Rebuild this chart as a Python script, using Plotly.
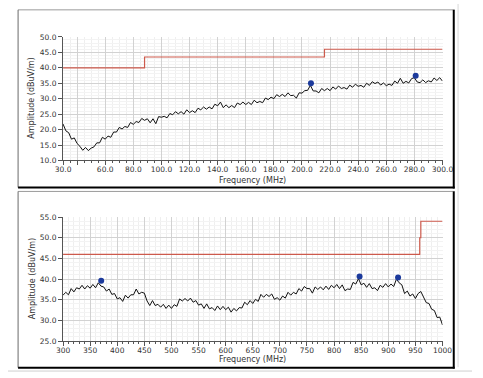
import plotly.graph_objects as go

# ---------------- data ----------------
top_freq = list(range(30, 301, 2))
top_amp = [
    21.8, 19.6, 19.0, 16.9, 17.3, 15.5, 14.6, 13.3, 14.2, 13.2,
    14.0, 14.4, 15.7, 15.7, 17.5, 16.9, 17.9, 17.5, 19.2, 19.2,
    20.7, 20.2, 21.0, 20.7, 22.3, 21.7, 22.6, 22.3, 23.6, 23.0,
    23.5, 22.2, 23.5, 21.9, 24.2, 24.0, 24.3, 23.8, 25.2, 24.8,
    25.8, 25.1, 25.8, 25.0, 26.4, 25.5, 26.1, 25.5, 26.9, 26.4,
    27.3, 26.6, 27.3, 26.7, 28.2, 27.7, 28.9, 27.1, 28.0, 27.1,
    27.8, 27.1, 28.6, 28.1, 28.9, 28.1, 28.8, 28.1, 29.5, 28.7,
    29.1, 28.7, 30.2, 29.7, 30.5, 30.0, 31.3, 30.7, 31.4, 30.7,
    31.9, 31.0, 31.1, 30.2, 31.9, 31.8, 32.6, 32.7, 34.3, 32.5,
    32.5, 31.9, 33.3, 32.6, 33.3, 32.6, 33.8, 33.1, 34.1, 33.3,
    33.6, 33.1, 34.4, 33.7, 34.7, 34.0, 34.3, 33.7, 35.0, 34.3,
    35.5, 34.9, 35.4, 34.4, 35.1, 34.2, 34.7, 34.3, 35.7, 35.0,
    36.6, 35.0, 35.6, 35.1, 36.5, 36.8, 35.4, 35.2, 36.1, 35.2,
    35.8, 35.4, 36.7, 35.9, 36.8, 35.7,
]
top_limit_freq = [30, 88, 88, 216, 216, 300]
top_limit_amp = [40.0, 40.0, 43.5, 43.5, 46.0, 46.0]
top_peak_freq = [206.4, 280.9]
top_peak_amp = [35.0, 37.4]

bot_freq = list(range(300, 1001, 5))
bot_amp = [
    36.1, 36.8, 36.2, 37.7, 36.9, 37.9, 37.6, 38.5, 37.6, 38.4,
    37.8, 38.7, 37.9, 39.1, 38.3, 38.1, 37.1, 37.6, 36.3, 36.5,
    35.2, 35.5, 34.6, 36.1, 35.4, 36.2, 36.2, 37.6, 36.4, 36.8,
    36.6, 34.7, 33.6, 34.8, 33.6, 33.9, 33.2, 33.9, 32.9, 33.7,
    32.9, 33.8, 33.4, 35.2, 34.7, 35.3, 34.7, 35.4, 34.4, 34.8,
    33.7, 34.0, 32.9, 34.0, 32.8, 33.1, 32.4, 33.5, 32.6, 33.4,
    32.6, 33.2, 32.0, 32.9, 32.3, 33.1, 33.0, 34.4, 33.8, 34.8,
    34.1, 35.1, 34.6, 36.3, 35.6, 36.3, 35.8, 36.4, 35.1, 35.5,
    34.9, 35.9, 35.4, 36.8, 36.1, 36.8, 36.4, 37.7, 37.1, 38.2,
    37.7, 37.7, 36.6, 38.1, 37.5, 38.1, 37.4, 38.3, 37.5, 38.5,
    37.9, 38.7, 37.7, 38.6, 37.2, 37.6, 37.5, 39.2, 38.8, 40.1,
    38.6, 39.0, 38.0, 38.9, 37.7, 37.9, 37.2, 38.5, 38.0, 38.9,
    38.1, 38.8, 38.2, 40.0, 39.1, 38.6, 36.5, 37.1, 35.9, 36.4,
    35.3, 36.5, 37.0, 35.6, 34.3, 34.1, 32.7, 32.4, 30.7, 30.8,
    28.9,
]
bot_limit_freq = [300, 958, 958, 960, 960, 1000]
bot_limit_amp = [46.0, 46.0, 50.0, 50.0, 54.0, 54.0]
bot_peak_freq = [370.4, 847.0, 918.0]
bot_peak_amp = [39.6, 40.6, 40.4]

top_xticks = [30, 40, 60, 80, 100, 120, 140, 160, 180, 200, 220, 240, 260, 280, 300]
top_xtext = ["30.0", "", "60.0", "80.0", "100.0", "120.0", "140.0", "160.0",
             "180.0", "200.0", "220.0", "240.0", "260.0", "280.0", "300.0"]
bot_xticks = list(range(300, 1001, 50))
bot_xtext = [str(v) for v in bot_xticks]

# ---------------- layout helpers ----------------
W, H = 483, 378
def px(x):
    return x / W
def py(y):
    return 1 - y / H

FONT = "DejaVu Sans"
LIMIT_COLOR = "#cd5a4c"
TRACE_COLOR = "#111111"
MARK_COLOR = "#1c3a9c"

fig = go.Figure()

fig.add_trace(go.Scatter(x=top_limit_freq, y=top_limit_amp, mode="lines",
                         line=dict(color=LIMIT_COLOR, width=1.2),
                         xaxis="x", yaxis="y", hoverinfo="skip"))
fig.add_trace(go.Scatter(x=top_freq, y=top_amp, mode="lines",
                         line=dict(color=TRACE_COLOR, width=1),
                         xaxis="x", yaxis="y"))
fig.add_trace(go.Scatter(x=top_peak_freq, y=top_peak_amp, mode="markers",
                         marker=dict(color=MARK_COLOR, size=6),
                         xaxis="x", yaxis="y"))

fig.add_trace(go.Scatter(x=bot_limit_freq, y=bot_limit_amp, mode="lines",
                         line=dict(color=LIMIT_COLOR, width=1.2),
                         xaxis="x2", yaxis="y2", hoverinfo="skip"))
fig.add_trace(go.Scatter(x=bot_freq, y=bot_amp, mode="lines",
                         line=dict(color=TRACE_COLOR, width=1),
                         xaxis="x2", yaxis="y2"))
fig.add_trace(go.Scatter(x=bot_peak_freq, y=bot_peak_amp, mode="markers",
                         marker=dict(color=MARK_COLOR, size=6),
                         xaxis="x2", yaxis="y2"))

tickfont = dict(family=FONT, size=7.5, color="#333333")
xdom = [px(57.3), px(452.3)]

common_x = dict(showline=True, linecolor="#555555", linewidth=1,
                ticks="outside", ticklen=4, tickcolor="#555555",
                gridcolor="#d2d2d2", gridwidth=1, zeroline=False,
                tickfont=tickfont, domain=xdom, ticklabelstandoff=-2)
common_y = dict(showline=True, linecolor="#555555", linewidth=1,
                ticks="outside", ticklen=4, tickcolor="#555555",
                gridcolor="#d2d2d2", gridwidth=1, zeroline=False,
                tickfont=tickfont, tickformat=".1f")

fig.update_layout(
    width=W, height=H,
    margin=dict(l=0, r=0, t=0, b=0),
    paper_bgcolor="white", plot_bgcolor="white",
    showlegend=False,
    xaxis=dict(**common_x, anchor="y", range=[30, 300],
               tickmode="array", tickvals=top_xticks, ticktext=top_xtext,
               minor=dict(dtick=5, tick0=30, ticks="outside", ticklen=2,
                          tickcolor="#555555", showgrid=True, gridcolor="#efefef")),
    yaxis=dict(**common_y, anchor="x", range=[10, 50], dtick=5,
               domain=[py(160.3), py(33.7)],
               minor=dict(dtick=1, showgrid=True, gridcolor="#f3f3f3")),
    xaxis2=dict(**common_x, anchor="y2", range=[300, 1000],
                tickmode="array", tickvals=bot_xticks, ticktext=bot_xtext,
                minor=dict(dtick=10, tick0=300, ticks="outside", ticklen=2,
                           tickcolor="#555555", showgrid=True, gridcolor="#efefef")),
    yaxis2=dict(**common_y, anchor="x2", range=[25, 55], dtick=5,
                domain=[py(345.3), py(218.3)],
                minor=dict(dtick=1, showgrid=True, gridcolor="#f3f3f3")),
)

titlefont = dict(family=FONT, size=8, color="#333333")
annotations = [
    dict(text="Frequency (MHz)", x=px(255), y=py(181), xref="paper", yref="paper",
         showarrow=False, font=titlefont, xanchor="center", yanchor="middle"),
    dict(text="Amplitude (dBuV/m)", x=px(25), y=py(97), xref="paper", yref="paper",
         showarrow=False, font=titlefont, textangle=-90, xanchor="center", yanchor="middle"),
    dict(text="Frequency (MHz)", x=px(255), y=py(364.5), xref="paper", yref="paper",
         showarrow=False, font=titlefont, xanchor="center", yanchor="middle"),
    dict(text="Amplitude (dBuV/m)", x=px(25), y=py(282), xref="paper", yref="paper",
         showarrow=False, font=titlefont, textangle=-90, xanchor="center", yanchor="middle"),
]
fig.update_layout(annotations=annotations)

shapes = []
def seg(x0, y0, x1, y1, color, width):
    shapes.append(dict(type="line", xref="paper", yref="paper",
                       x0=px(x0), y0=py(y0), x1=px(x1), y1=py(y1),
                       line=dict(color=color, width=width)))

# top panel frame
seg(10.5, 6, 465, 6, "#9a9a9a", 1)
seg(10.5, 6, 10.5, 188, "#6a6a6a", 1)
seg(464, 6, 464, 189, "#000000", 2)
seg(10.5, 188, 465, 188, "#000000", 2)
# bottom panel frame
seg(10.5, 192, 465, 192, "#9a9a9a", 1)
seg(10.5, 192, 10.5, 372.5, "#6a6a6a", 1)
seg(464, 192, 464, 373.5, "#000000", 2)
seg(10.5, 372.5, 465, 372.5, "#000000", 2)
# window edge lines
seg(468.5, 0, 468.5, 372, "#d8d8d8", 1)
seg(0, 376, 483, 376, "#cfcfcf", 1)
fig.update_layout(shapes=shapes)

fig.write_html(
    "out.html",
    config={"displayModeBar": False},
    post_script="document.body.style.margin='0px';document.body.style.overflow='hidden';",
)
